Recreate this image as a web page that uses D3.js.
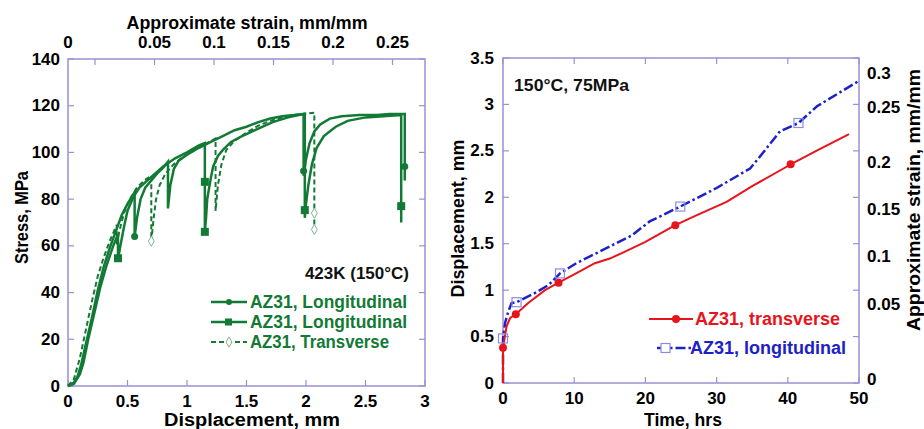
<!DOCTYPE html>
<html><head><meta charset="utf-8">
<script src="https://cdn.jsdelivr.net/npm/d3@7"></script>
<style>
body{margin:0;background:#fff}
text{font-family:"Liberation Sans",Arial,sans-serif;font-weight:bold}
</style>
</head><body>
<svg id="c" width="924" height="429"></svg>
<script>
// ---------- Left chart data: displacement (mm), stress (MPa) ----------
const longA = [[0,0],[0.05,1.5],[0.08,4],[0.11,9],[0.15,18],[0.2,29],[0.25,41],[0.3,51],[0.35,59],[0.4,66],[0.45,73],[0.5,78],[0.56,83],
  [0.56,64],[0.58,72],[0.61,80],[0.65,85],[0.7,88],[0.75,91],[0.8,93.5],[0.84,96],
  [0.84,76],[0.86,86],[0.89,93],[0.93,96.5],[1.0,99],[1.1,102],[1.2,104.5],[1.3,107],[1.4,109.5],[1.5,111],[1.6,113],[1.7,114.5],[1.8,115.5],[1.9,116],[1.98,116.5],
  [1.98,90],[2.0,97],[2.03,104],[2.07,109],[2.12,112],[2.2,114.5],[2.3,115.5],[2.45,116],[2.6,116],[2.7,116.5],[2.83,116.5],[2.83,88]];
const longAMarks = [[0.56,64],[1.98,92],[2.83,94]];

const longB = [[0,0],[0.05,1],[0.1,5],[0.13,10],[0.17,20],[0.22,31],[0.27,42],[0.32,51],[0.38,60],[0.42,65],
  [0.42,54],[0.44,60],[0.47,68],[0.5,75],[0.55,81],[0.6,85],[0.7,89.5],[0.8,94],[0.9,97.5],[1.0,100],[1.1,103],[1.15,104],
  [1.15,66],[1.16,72],[1.17,80],[1.2,89],[1.22,94],[1.26,98.5],[1.3,101],[1.37,104.5],[1.45,106.7],[1.59,110],[1.72,113],[1.85,115],[1.99,116.5],
  [1.99,72],[2.0,78],[2.02,86],[2.05,95],[2.09,102],[2.15,107],[2.25,111],[2.35,113.5],[2.5,115],[2.65,115.5],[2.8,116],[2.8,70]];
const longBMarks = [[0.42,54.7],[1.15,87.4],[1.15,66],[1.99,75.3],[2.8,77]];

const trans = [[0,0],[0.05,3],[0.1,12],[0.15,24],[0.2,36],[0.25,47],[0.3,55],[0.35,62],[0.41,69],
  [0.41,60],[0.43,66],[0.47,74],[0.52,80],[0.58,85],[0.64,88],[0.7,90],
  [0.7,62],[0.72,72],[0.74,80],[0.77,86],[0.82,91],[0.88,94.5],[0.95,97.5],[1.05,100.5],[1.15,103.5],[1.24,106],
  [1.24,75],[1.26,86],[1.29,95],[1.33,101],[1.4,105],[1.5,108.5],[1.6,111.5],[1.7,113.5],[1.8,115],[1.9,116],[2.07,117],
  [2.07,65]];
const transMarks = [[0.7,62],[2.07,74],[2.07,67]];

const leftXTicks = [0,0.5,1,1.5,2,2.5,3];
const leftYTicks = [0,20,40,60,80,100,120,140];
const strainTicks = [0,0.05,0.1,0.15,0.2,0.25];
const leftLegend = ["AZ31, Longitudinal","AZ31, Longitudinal","AZ31, Transverse"];

// ---------- Right chart data: time (hrs), displacement (mm) ----------
const transverseT = [[0,0],[0,0.38],[0.5,0.61],[1.0,0.70],[1.8,0.74],[3.5,0.86],[5.9,1.0],[7.8,1.08],[10,1.17],[12.9,1.29],[15,1.34],[17,1.41],[20,1.52],[24.2,1.70],[27,1.80],[31.4,1.95],[35,2.12],[39.4,2.31],[40.4,2.355],[44,2.50],[48.6,2.68]];
const transverseMarks = [[0,0.38],[1.8,0.74],[7.8,1.08],[24.2,1.70],[40.4,2.355]];
const longitudinalT = [[0,0],[0,0.48],[0.3,0.65],[0.75,0.77],[1.2,0.86],[1.9,0.87],[4.5,0.97],[6.4,1.055],[8,1.18],[10.3,1.29],[15,1.47],[18.1,1.59],[20.6,1.74],[24.9,1.90],[30,2.10],[34.7,2.31],[36.1,2.44],[38.9,2.71],[41.5,2.80],[44.1,2.98],[49.8,3.245]];
const longitudinalMarks = [[0,0.48],[1.9,0.87],[8,1.18],[24.9,1.90],[41.5,2.80]];

const rightXTicks = [0,10,20,30,40,50];
const rightYTicks = [0,0.5,1,1.5,2,2.5,3,3.5];
const rightStrainTicks = [0,0.05,0.1,0.15,0.2,0.25,0.3];
const rightLegend = ["AZ31, transverse","AZ31, longitudinal"];

// ---------- styles ----------
const GREEN = "#127a35", FRAME = "#9a90d4", RED = "#e8141c", BLUE = "#1c22c8";
const svg = d3.select("#c");
const FS = 16, TFS = 18;

function frame(g, x0, x1, y0, y1){
  g.append("rect").attr("x",x0).attr("y",y0).attr("width",x1-x0).attr("height",y1-y0)
   .attr("fill","none").attr("stroke",FRAME).attr("stroke-width",1.5);
}
function title(g, txt, len){
  return g.append("text").attr("text-anchor","middle").attr("font-size",TFS)
    .attr("textLength",len).attr("lengthAdjust","spacingAndGlyphs").text(txt);
}

// ================= LEFT CHART =================
const L = {l:68, r:425, t:59, b:386};
const lx = d3.scaleLinear().domain([0,3]).range([L.l,L.r]);
const ly = d3.scaleLinear().domain([0,140]).range([L.b,L.t]);
const ls = d3.scaleLinear().domain([-0.0227,0.2773]).range([L.l,L.r]);
const gl = svg.append("g");
frame(gl, L.l, L.r, L.t, L.b);
const TL = 6;
leftYTicks.forEach(v=>{
  gl.append("line").attr("x1",L.l).attr("x2",L.l+TL).attr("y1",ly(v)).attr("y2",ly(v)).attr("stroke",FRAME).attr("stroke-width",1.2);
  gl.append("line").attr("x1",L.r).attr("x2",L.r-TL).attr("y1",ly(v)).attr("y2",ly(v)).attr("stroke",FRAME).attr("stroke-width",1.2);
  gl.append("text").attr("x",L.l-8).attr("y",ly(v)+5.5).attr("text-anchor","end").attr("font-size",FS+1).text(v);
});
leftXTicks.forEach(v=>{
  gl.append("line").attr("x1",lx(v)).attr("x2",lx(v)).attr("y1",L.b).attr("y2",L.b-TL).attr("stroke",FRAME).attr("stroke-width",1.2);
  gl.append("text").attr("x",lx(v)).attr("y",L.b+21).attr("text-anchor","middle").attr("font-size",FS+1).text(v);
});
strainTicks.forEach(v=>{
  gl.append("line").attr("x1",ls(v)).attr("x2",ls(v)).attr("y1",L.t).attr("y2",L.t+TL).attr("stroke",FRAME).attr("stroke-width",1.2);
  const xl = v===0 ? ls.range()[0] : ls(v);
  gl.append("text").attr("x",xl).attr("y",L.t-11).attr("text-anchor","middle").attr("font-size",FS+1).text(v);
});
title(gl,"Approximate strain, mm/mm",241).attr("x",247).attr("y",L.t-30);
title(gl,"Displacement, mm",176).attr("x",252).attr("y",426);
title(gl,"Stress, MPa",93).attr("transform",`translate(28,${(L.t+L.b)/2-5}) rotate(-90)`);

const lineL = d3.line().x(d=>lx(d[0])).y(d=>ly(d[1]));
gl.append("path").datum(trans).attr("d",lineL).attr("fill","none").attr("stroke",GREEN).attr("stroke-width",2).attr("stroke-dasharray","5,3");
gl.append("path").datum(longB).attr("d",lineL).attr("fill","none").attr("stroke",GREEN).attr("stroke-width",2.5);
gl.append("path").datum(longA).attr("d",lineL).attr("fill","none").attr("stroke",GREEN).attr("stroke-width",2.5);
longAMarks.forEach(d=>gl.append("circle").attr("cx",lx(d[0])).attr("cy",ly(d[1])).attr("r",3.5).attr("fill",GREEN));
longBMarks.forEach(d=>gl.append("rect").attr("x",lx(d[0])-4).attr("y",ly(d[1])-4).attr("width",8).attr("height",8).attr("fill",GREEN));
const diamond = d3.symbol().type(d3.symbolDiamond).size(30);
transMarks.forEach(d=>gl.append("path").attr("d",diamond).attr("transform",`translate(${lx(d[0])},${ly(d[1])})`).attr("fill","#fff").attr("stroke","#7fb48e").attr("stroke-width",1));

gl.append("text").attr("x",409).attr("y",279).attr("text-anchor","end").attr("font-size",FS+1).attr("fill","#111").text("423K (150\u00B0C)");
leftLegend.forEach((t,i)=>{
  const y = 302 + i*20;
  const ln = gl.append("line").attr("x1",211).attr("x2",247).attr("y1",y).attr("y2",y).attr("stroke",GREEN).attr("stroke-width",i===2?2:2.5);
  if(i===2) ln.attr("stroke-dasharray","5,3");
  if(i===0) gl.append("circle").attr("cx",229).attr("cy",y).attr("r",3).attr("fill",GREEN);
  if(i===1) gl.append("rect").attr("x",225).attr("y",y-3.5).attr("width",7).attr("height",7).attr("fill",GREEN);
  if(i===2) gl.append("path").attr("d",diamond).attr("transform",`translate(229,${y})`).attr("fill","#fff").attr("stroke","#7fb48e");
  gl.append("text").attr("x",250).attr("y",y+6).attr("font-size",TFS).attr("fill",GREEN)
    .attr("textLength",i===2?139:157).attr("lengthAdjust","spacingAndGlyphs").text(t);
});

// ================= RIGHT CHART =================
const R = {l:503, r:859, t:58, b:383};
const rx = d3.scaleLinear().domain([0,50]).range([R.l,R.r]);
const ry = d3.scaleLinear().domain([0,3.5]).range([R.b,R.t]);
const rs = d3.scaleLinear().domain([0,0.05,0.2,0.25,0.3]).range([379,304,162,107,73]);
const gr = svg.append("g");
frame(gr, R.l, R.r, R.t, R.b);
rightYTicks.forEach(v=>{
  gr.append("line").attr("x1",R.l).attr("x2",R.l+TL).attr("y1",ry(v)).attr("y2",ry(v)).attr("stroke",FRAME).attr("stroke-width",1.2);
  gr.append("line").attr("x1",R.r).attr("x2",R.r-TL).attr("y1",ry(v)).attr("y2",ry(v)).attr("stroke",FRAME).attr("stroke-width",1.2);
  gr.append("text").attr("x",R.l-9).attr("y",ry(v)+5.5).attr("text-anchor","end").attr("font-size",FS+1).text(v);
});
rightXTicks.forEach(v=>{
  gr.append("line").attr("x1",rx(v)).attr("x2",rx(v)).attr("y1",R.b).attr("y2",R.b-TL).attr("stroke",FRAME).attr("stroke-width",1.2);
  gr.append("line").attr("x1",rx(v)).attr("x2",rx(v)).attr("y1",R.t).attr("y2",R.t+TL).attr("stroke",FRAME).attr("stroke-width",1.2);
  gr.append("text").attr("x",rx(v)).attr("y",R.b+21).attr("text-anchor","middle").attr("font-size",FS+1).text(v);
});
rightStrainTicks.forEach(v=>{
  gr.append("text").attr("x",R.r+8).attr("y",rs(v)+5.5).attr("text-anchor","start").attr("font-size",FS+1).text(v);
});
title(gr,"Time, hrs",78).attr("x",683).attr("y",426);
title(gr,"Displacement, mm",158).attr("transform",`translate(464,${(R.t+R.b)/2-2}) rotate(-90)`);
title(gr,"Approximate strain, mm/mm",262).attr("transform",`translate(920,200) rotate(-90)`);
gr.append("text").attr("x",514).attr("y",91).attr("font-size",FS+1).attr("fill","#111")
  .attr("textLength",115).attr("lengthAdjust","spacingAndGlyphs").text("150\u00B0C, 75MPa");

const lineR = d3.line().x(d=>rx(d[0])).y(d=>ry(d[1]));
gr.append("path").datum(longitudinalT).attr("d",lineR).attr("fill","none").attr("stroke",BLUE).attr("stroke-width",2.5).attr("stroke-dasharray","10,3,2.5,3");
gr.append("path").datum(transverseT).attr("d",lineR).attr("fill","none").attr("stroke",RED).attr("stroke-width",2);
longitudinalMarks.forEach(d=>gr.append("rect").attr("x",rx(d[0])-4.5).attr("y",ry(d[1])-4.5).attr("width",9).attr("height",9).attr("fill","none").attr("stroke","#8a8ee0").attr("stroke-width",1.2));
transverseMarks.forEach(d=>gr.append("circle").attr("cx",rx(d[0])).attr("cy",ry(d[1])).attr("r",4).attr("fill",RED));

rightLegend.forEach((t,i)=>{
  const y = 319 + i*29;
  const c = i===0?RED:BLUE;
  const ln = gr.append("line").attr("x1",i===0?649:657).attr("x2",693).attr("y1",y).attr("y2",y).attr("stroke",c).attr("stroke-width",i===0?2:2.5);
  if(i===1) ln.attr("stroke-dasharray","10,3,2.5,3");
  if(i===0) gr.append("circle").attr("cx",676).attr("cy",y).attr("r",4).attr("fill",RED);
  else gr.append("rect").attr("x",661).attr("y",y-4.5).attr("width",9).attr("height",9).attr("fill","#fff").attr("stroke","#8a8ee0").attr("stroke-width",1.2);
  gr.append("text").attr("x",i===0?695:690).attr("y",y+6).attr("font-size",FS+2).attr("fill",c).text(t);
});
</script>
</body></html>
